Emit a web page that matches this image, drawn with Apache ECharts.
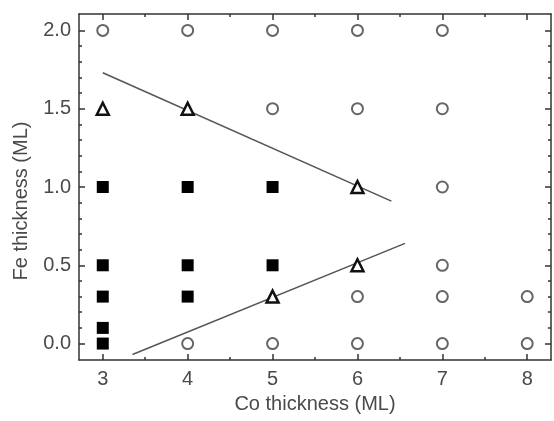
<!DOCTYPE html>
<html>
<head>
    <meta charset="utf-8">
    <title>ECharts</title>
    <script src="https://cdn.jsdelivr.net/npm/echarts@6/dist/echarts.min.js"></script>
</head>
<body style="margin:0;background:#fff">
<div id="main" style="width:554px;height:421px"></div>
<script type="text/javascript">
    // open circles, filled squares, triangles: [Co, Fe]
    var circles = [[3, 2], [4, 2], [5, 2], [6, 2], [7, 2],
        [5, 1.5], [6, 1.5], [7, 1.5], [7, 1.0], [7, 0.5],
        [6, 0.3], [7, 0.3], [8, 0.3],
        [4, 0], [5, 0], [6, 0], [7, 0], [8, 0]];
    var squares = [[3, 1], [4, 1], [5, 1], [3, 0.5], [4, 0.5], [5, 0.5],
        [3, 0.3], [4, 0.3], [3, 0.1], [3, 0]];
    var triangles = [[3, 1.5], [4, 1.5], [6, 1.0], [6, 0.5], [5, 0.3]];
    var upperLine = [[3.0, 1.73], [6.4, 0.91]];
    var lowerLine = [[3.35, -0.07], [6.56, 0.64]];

    var xMajor = [3, 4, 5, 6, 7, 8];
    var xMinor = [3.5, 4.5, 5.5, 6.5, 7.5];
    var yMajor = [0, 0.5, 1, 1.5, 2];
    var yMinor = [0.1, 0.2, 0.3, 0.4, 0.6, 0.7, 0.8, 0.9, 1.1, 1.2, 1.3, 1.4, 1.6, 1.7, 1.8, 1.9];

    var font = 'Liberation Sans';
    var txt = '#4a4a4a';
    var axisCol = '#333';

    function xAx(pos, ticks, len, main) {
        var bottom = main && pos === 'bottom';
        return {
            type: 'value', position: pos, min: 2.72, max: 8.28,
            name: bottom ? 'Co thickness (ML)' : '',
            nameLocation: 'middle', nameGap: 34,
            nameTextStyle: {fontFamily: font, fontSize: 20, color: txt},
            axisLine: {show: main, onZero: false, lineStyle: {color: axisCol, width: 1.5}},
            axisTick: {show: true, inside: true, length: len, customValues: ticks, lineStyle: {color: axisCol, width: 1.5}},
            axisLabel: {show: bottom, customValues: xMajor, margin: 9,
                fontFamily: font, fontSize: 20, color: txt},
            splitLine: {show: false}
        };
    }

    function yAx(pos, ticks, len, main) {
        var left = main && pos === 'left';
        return {
            type: 'value', position: pos, min: -0.105, max: 2.105,
            name: left ? 'Fe thickness (ML)' : '',
            nameLocation: 'middle', nameGap: 48,
            nameTextStyle: {fontFamily: font, fontSize: 20, color: txt, padding: [0, 28, 0, 0]},
            axisLine: {show: main, onZero: false, lineStyle: {color: axisCol, width: 1.5}},
            axisTick: {show: true, inside: true, length: len, customValues: ticks, lineStyle: {color: axisCol, width: 1.5}},
            axisLabel: {show: left, customValues: yMajor, margin: 8,
                fontFamily: font, fontSize: 20, color: txt,
                formatter: function (v) { return v.toFixed(1); }},
            splitLine: {show: false}
        };
    }

    var myChart = echarts.init(document.getElementById('main'));
    var option = {
        animation: false,
        grid: {left: 79, right: 3, top: 14, bottom: 61, outerBoundsMode: 'none'},
        xAxis: [
            xAx('bottom', xMajor, 6, true),
            xAx('bottom', xMinor, 3, false),
            xAx('top', xMajor, 6, true),
            xAx('top', xMinor, 3, false)
        ],
        yAxis: [
            yAx('left', yMajor, 6, true),
            yAx('left', yMinor, 3, false),
            yAx('right', yMajor, 6, true),
            yAx('right', yMinor, 3, false)
        ],
        series: [
            {
                type: 'line', data: upperLine, symbol: 'none', z: 1,
                lineStyle: {color: '#555', width: 1.5}
            },
            {
                type: 'line', data: lowerLine, symbol: 'none', z: 1,
                lineStyle: {color: '#555', width: 1.5}
            },
            {
                type: 'scatter', data: circles, symbol: 'circle', symbolSize: 11, z: 3,
                itemStyle: {color: '#fff', borderColor: '#666', borderWidth: 2, opacity: 1}
            },
            {
                type: 'scatter', data: squares, symbol: 'rect', symbolSize: 12, z: 3,
                itemStyle: {color: '#000', opacity: 1}
            },
            {
                type: 'scatter', data: triangles, symbol: 'triangle', symbolSize: 12, z: 3,
                itemStyle: {color: '#fff', borderColor: '#111', borderWidth: 2.5, opacity: 1}
            }
        ]
    };
    myChart.setOption(option);
</script>
</body>
</html>
